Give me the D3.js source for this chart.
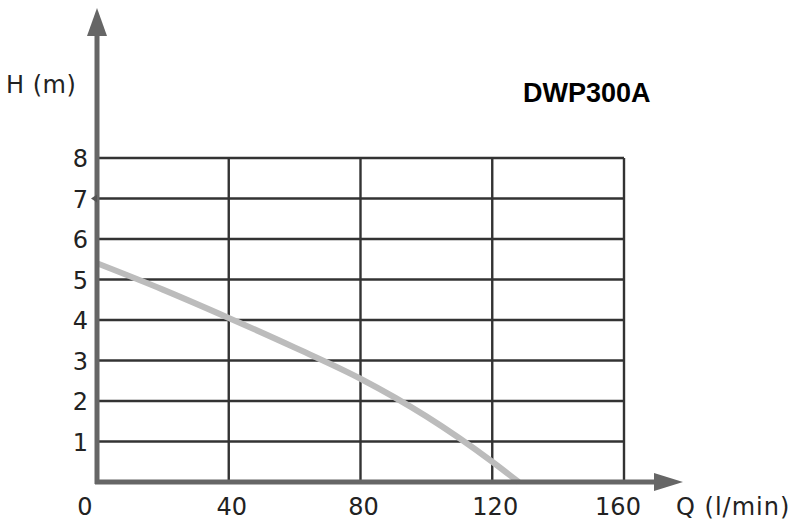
<!DOCTYPE html>
<html>
<head>
<meta charset="utf-8">
<script src="https://cdn.jsdelivr.net/npm/d3@7"></script>
<style>
  body { margin: 0; background: #fff; }
  svg { display: block; }
</style>
</head>
<body>
<svg id="chart" width="798" height="521"></svg>
<script>
// pump curve values
const flow = [0, 20, 40, 60, 80, 100, 120, 128];
const head = [5.4, 4.75, 4.05, 3.32, 2.55, 1.62, 0.5, 0];
const xTicks = [0, 40, 80, 120, 160];
const yTicks = [1, 2, 3, 4, 5, 6, 7, 8];
const title = "DWP300A";

const svg = d3.select("#chart");

const x = d3.scaleLinear().domain([0, 160]).range([97, 624]);
const y = d3.scaleLinear().domain([0, 8]).range([482, 158]);

const font = "DejaVu Sans, Verdana";

// grid
svg.append("g").selectAll("line.h")
  .data(yTicks)
  .enter().append("line")
  .attr("x1", x(0)).attr("x2", x(160))
  .attr("y1", d => y(d)).attr("y2", d => y(d))
  .attr("stroke", "#333").attr("stroke-width", 2.4);

svg.append("g").selectAll("line.v")
  .data(xTicks.slice(1))
  .enter().append("line")
  .attr("x1", d => x(d)).attr("x2", d => x(d))
  .attr("y1", y(0)).attr("y2", y(8))
  .attr("stroke", "#333").attr("stroke-width", 2.4);

// curve
const line = d3.line()
  .x((d, i) => x(flow[i]))
  .y(d => y(d))
  .curve(d3.curveMonotoneX);

svg.append("path")
  .datum(head)
  .attr("fill", "none")
  .attr("stroke", "#bcbcbc")
  .attr("stroke-width", 6)
  .attr("d", line);

// axes with arrows
const axisColor = "#666";
svg.append("line")
  .attr("x1", x(0)).attr("x2", x(0))
  .attr("y1", y(0) + 2).attr("y2", 32)
  .attr("stroke", axisColor).attr("stroke-width", 5);
svg.append("path")
  .attr("d", `M${x(0)},8 L${x(0) - 10},36 L${x(0) + 10},36 Z`)
  .attr("fill", axisColor);

svg.append("line")
  .attr("x1", x(0) - 2).attr("x2", 658)
  .attr("y1", y(0)).attr("y2", y(0))
  .attr("stroke", axisColor).attr("stroke-width", 5);
svg.append("path")
  .attr("d", `M683,${y(0)} L654,${y(0) - 9} L654,${y(0) + 9} Z`)
  .attr("fill", axisColor);

// small tick mark at 7
svg.append("path")
  .attr("d", `M${x(0) - 6},${y(7)} L${x(0)},${y(7) - 4} L${x(0)},${y(7) + 4} Z`)
  .attr("fill", "#555");

// tick labels
svg.append("g").selectAll("text")
  .data(yTicks)
  .enter().append("text")
  .attr("x", 88).attr("y", d => y(d) + 9)
  .attr("text-anchor", "end")
  .attr("font-family", font)
  .attr("font-size", 24)
  .attr("fill", "#222")
  .text(d => d);

svg.append("g").selectAll("text")
  .data(xTicks)
  .enter().append("text")
  .attr("x", d => x(d) + (d === 0 ? -12 : d === 160 ? -6 : 3)).attr("y", 515)
  .attr("text-anchor", "middle")
  .attr("font-family", font)
  .attr("font-size", 24)
  .attr("fill", "#222")
  .text(d => d);

svg.append("text")
  .attr("x", 676).attr("y", 515)
  .attr("font-family", font)
  .attr("font-size", 24)
  .attr("letter-spacing", 1)
  .attr("fill", "#222")
  .text("Q (l/min)");

svg.append("text")
  .attr("x", 6).attr("y", 93)
  .attr("font-family", font)
  .attr("font-size", 24)
  .attr("letter-spacing", 0.5)
  .attr("fill", "#222")
  .text("H (m)");

svg.append("text")
  .attr("x", 523).attr("y", 102)
  .attr("font-family", "Liberation Sans, Arial")
  .attr("font-weight", "bold")
  .attr("font-size", 27)
  .attr("fill", "#000")
  .text(title);
</script>
</body>
</html>
